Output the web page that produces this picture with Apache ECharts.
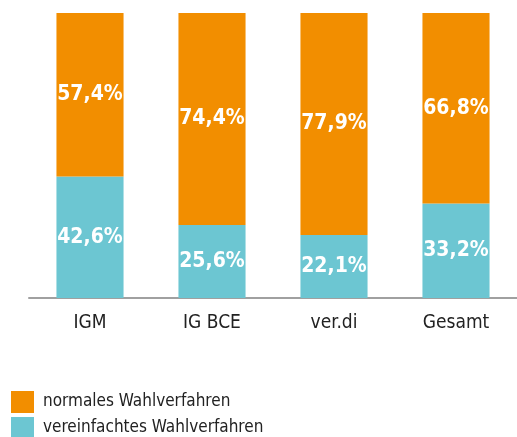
<html>
<head>
	<meta charset="UTF-8">
	<script src="https://cdn.jsdelivr.net/npm/echarts@6/dist/echarts.min.js"></script>
</head>
<body style="margin:0;">
<div id="chart" style="width: 517px;height:437px;"></div>
<script type="text/javascript">
        var categories = ['IGM', 'IG BCE', 'ver.di', 'Gesamt']
        var vereinfacht = [42.6, 25.6, 22.1, 33.2]
        var normal = [57.4, 74.4, 77.9, 66.8]
        var seriesNames = ['normales Wahlverfahren', 'vereinfachtes Wahlverfahren']

        var font = '"DejaVu Sans Condensed", "Liberation Sans Narrow", sans-serif'

        function pct(p) {
            return p.value.toFixed(1).replace('.', ',') + '%'
        }

        var myChart = echarts.init(document.getElementById('chart'));

        option = {
            animation: false,
            grid: {left: 29, top: 13, width: 492, height: 285, containLabel: false},
            legend: {
                orient: 'vertical',
                left: 11, top: 391, padding: 0,
                itemWidth: 23, itemHeight: 22, itemGap: 4,
                height: 60,
                icon: 'rect',
                textStyle: {fontFamily: font, fontSize: 17, color: '#222', padding: [0, 0, 0, 4]},
                data: seriesNames
            },
            xAxis: {
                type: 'category',
                data: categories,
                axisTick: {show: false},
                axisLine: {lineStyle: {color: '#a0a0a0', width: 2}},
                axisLabel: {fontFamily: font, fontSize: 19, color: '#222', margin: 16}
            },
            yAxis: {type: 'value', min: 0, max: 100, show: false},
            series: [
                {
                    name: seriesNames[1], type: 'bar', stack: 'a', data: vereinfacht,
                    barWidth: '55%',
                    itemStyle: {color: '#6cc6d2'},
                    label: {show: true, position: 'inside', formatter: pct,
                        color: '#fff', fontFamily: font, fontWeight: 'bold', fontSize: 21}
                },
                {
                    name: seriesNames[0], type: 'bar', stack: 'a', data: normal,
                    itemStyle: {color: '#f28e00'},
                    label: {show: true, position: 'inside', formatter: pct,
                        color: '#fff', fontFamily: font, fontWeight: 'bold', fontSize: 21}
                }
            ]
        };

        myChart.setOption(option);
</script>
</body>
</html>
